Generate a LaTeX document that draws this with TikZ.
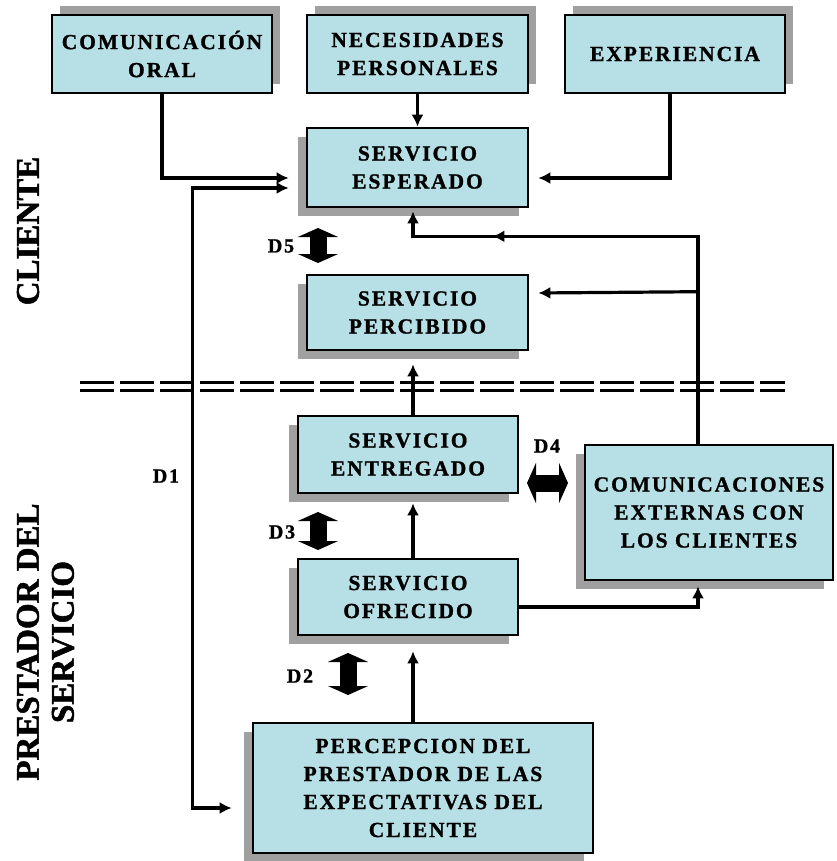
\documentclass[tikz,border=0pt]{standalone}
\usepackage{fontspec}
\setmainfont{Liberation Serif}
\newfontfamily\boxfont{Liberation Serif}[LetterSpace=9, BoldFeatures={FakeBold=1.2}]
\newfontfamily\sidefont{Liberation Serif}[BoldFeatures={FakeBold=1.5}]
\usetikzlibrary{arrows.meta,shadows,calc,decorations.markings}
\definecolor{boxfill}{RGB}{183,224,230}
\definecolor{shade}{RGB}{160,160,160}

\begin{document}
\begin{tikzpicture}[x=1pt,y=-1pt,
  >={Latex[length=12pt,width=12pt]},
  box/.style={draw=black, line width=2.6pt, fill=boxfill, inner sep=0pt, align=center,
    font=\boxfont\bfseries\fontsize{21.5}{28}\selectfont},
  shUR/.style={general shadow={fill=shade, shadow xshift=8pt, shadow yshift=9pt}},
  shDL/.style={general shadow={fill=shade, shadow xshift=-9pt, shadow yshift=-9pt}},
  conn/.style={line width=3.2pt, ->},
  dbl/.style={line width=17pt, {Triangle[length=9pt,width=40pt]}-{Triangle[length=9pt,width=40pt]}},
  dlab/.style={font=\boxfont\bfseries\fontsize{20}{20}\selectfont},
  side/.style={font=\sidefont\bfseries\fontsize{33}{35}\selectfont, rotate=90, align=center},
  midarrow/.style={postaction={decorate}, decoration={markings,
    mark=at position #1 with {\arrow{Latex[length=12pt,width=12pt]}}}}
]
\useasboundingbox (0,0) rectangle (836,861);

% client side boxes
\node[box, shUR, minimum width=220pt, minimum height=78pt] (oral) at (162,54) {COMUNICACIÓN\\ORAL};
\node[box, shUR, minimum width=221pt, minimum height=78pt] (nec) at (417.5,54) {NECESIDADES\\PERSONALES};
\node[box, shUR, minimum width=220pt, minimum height=78pt] (exp) at (675,54) {EXPERIENCIA};
\node[box, shDL, minimum width=221pt, minimum height=79pt] (esp) at (417.5,167.5) {SERVICIO\\ESPERADO};
\node[box, shDL, minimum width=221pt, minimum height=75pt] (perc) at (417.5,312.5) {SERVICIO\\PERCIBIDO};

% provider side boxes
\node[box, shDL, minimum width=220pt, minimum height=77pt] (ent) at (408,454.5) {SERVICIO\\ENTREGADO};
\node[box, shDL, minimum width=220pt, minimum height=76pt] (ofr) at (408,597) {SERVICIO\\OFRECIDO};
\node[box, shDL, minimum width=248pt, minimum height=135pt] (com) at (709,512.5) {COMUNICACIONES\\EXTERNAS CON\\LOS CLIENTES};
\node[box, shDL, minimum width=340pt, minimum height=130pt] (pre) at (423,788) {PERCEPCION DEL\\PRESTADOR DE LAS\\EXPECTATIVAS DEL\\CLIENTE};

% side titles
\node[side] (cli) at (28,231) {CLIENTE};
\node[side] (prs) at (45.5,642) {PRESTADOR DEL\\SERVICIO};

% boundary between client and provider
\draw[line width=3pt, dash pattern=on 34pt off 6pt] (80,382) -- (785,382);
\draw[line width=3pt, dash pattern=on 34pt off 6pt] (80,390) -- (785,390);

% connector end points
\coordinate (oralIn) at ($(esp.west)+(-17,10.5)$);
\coordinate (d1a) at ($(esp.west)+(-17,20.5)$);
\coordinate (d1b) at ($(pre.west)+(-20,20)$);
\coordinate (expIn) at ($(esp.east)+(9,10.5)$);
\coordinate (cup) at ($(com.north)+(-11,0)$);
\coordinate (espB) at ($(esp.south)+(-4.5,3)$);
\coordinate (brP) at ($(cup)+(0,-152)$);
\coordinate (percIn) at ($(perc.east)+(9,-19.5)$);
\coordinate (comIn) at ($(com.south)+(-11,5)$);

% connectors
\draw[conn] (oral.south) |- (oralIn);
\draw[conn] (nec.south) -- (esp.north);
\draw[conn] ($(exp.south)+(-5,0)$) |- (expIn);
\draw[conn, <->] (d1a) -| ($(d1b)+(-39,0)$) -- (d1b);
\draw[conn, midarrow=413pt] (cup) |- ($(espB)+(0,25)$) -- (espB);
\draw[conn] (brP) -- (percIn);
\draw[conn] ($(ent.north)+(5,0)$) -- ($(perc.south)+(-4.5,13)$);
\draw[conn] ($(ofr.north)+(5,0)$) -- ($(ent.south)+(5,9)$);
\draw[conn] ($(pre.north)+(-10,0)$) -- ($(ofr.south)+(5,15)$);
\draw[conn] ($(ofr.east)+(0,10)$) -| (comIn);

% gap markers
\coordinate (d5a) at (318,228); \coordinate (d5b) at (318,263);
\coordinate (d3a) at (318,512); \coordinate (d3b) at (318,550);
\coordinate (d2a) at (348,653); \coordinate (d2b) at (348,695);
\coordinate (d4a) at (527,483); \coordinate (d4b) at (568,483);
\draw[dbl] (d5a) -- (d5b);
\draw[dbl] (d3a) -- (d3b);
\draw[dbl] (d2a) -- (d2b);
\draw[dbl] (d4a) -- (d4b);
\node[dlab] (l5) at (281,246) {D5};
\node[dlab] (l3) at (282,532) {D3};
\node[dlab] (l2) at (300,676) {D2};
\node[dlab] (l4) at (547,446) {D4};
\node[dlab] (l1) at (166,476) {D1};
\end{tikzpicture}
\end{document}
